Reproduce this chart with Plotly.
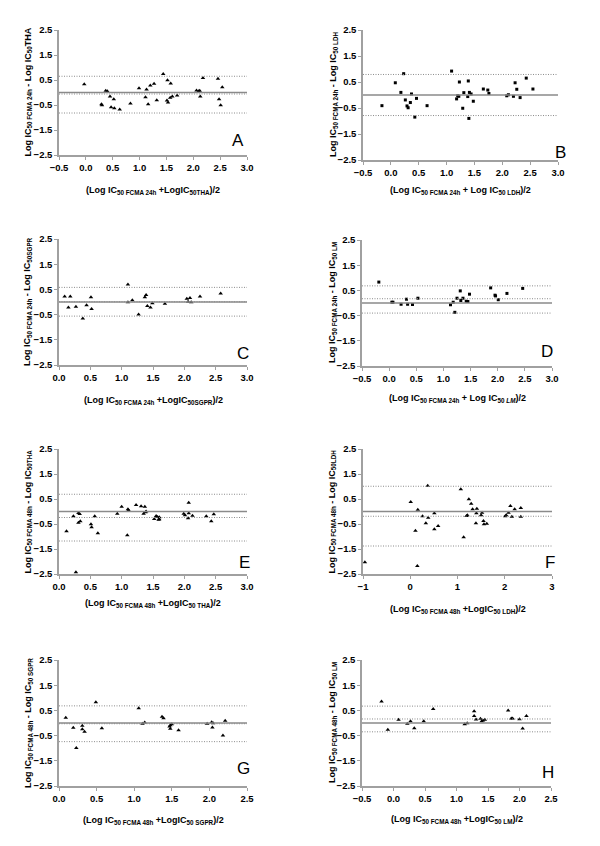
import plotly.graph_objects as go

# ---------------- data ----------------
# Panel A : FCMA 24h vs THA
A_x = [-0.03, 0.29, 0.30, 0.37, 0.40, 0.45, 0.47, 0.52, 0.53, 0.63, 0.83, 0.99, 1.11, 1.13, 1.16, 1.20, 1.27, 1.32,
       1.44, 1.52, 1.51, 1.53, 1.57, 1.58, 1.61, 1.70, 2.06, 2.10, 2.12, 2.13, 2.18, 2.46, 2.48, 2.51, 2.54]
A_y = [0.33, -0.47, -0.51, 0.07, 0.05, -0.16, -0.59, -0.27, -0.63, -0.68, -0.44, 0.17, -0.19, 0.12, -0.47, 0.28, 0.35, -0.31,
       0.74, 0.49, -0.32, -0.40, -0.21, 0.36, -0.16, -0.12, 0.08, 0.05, 0.07, -0.16, 0.58, 0.55, -0.27, -0.51, 0.21]
A_limits = [0.65, -0.06, -0.82]

# Panel B : FCMA 24h vs LDH
B_x = [-0.16, 0.08, 0.18, 0.23, 0.26, 0.29, 0.31, 0.35, 0.37, 0.43, 0.46, 0.65, 1.09, 1.18, 1.20, 1.22, 1.23, 1.29,
       1.31, 1.38, 1.39, 1.40, 1.41, 1.44, 1.48, 1.66, 1.74, 1.76, 2.08, 2.11, 2.20, 2.23, 2.26, 2.32, 2.43, 2.55]
B_y = [-0.41, 0.47, 0.10, 0.82, -0.19, -0.42, -0.49, -0.29, 0.04, -0.85, -0.13, -0.41, 0.92, -0.15, -0.03, -0.05, 0.50, -0.51,
       0.09, -0.06, 0.54, -0.90, 0.10, 0.04, -0.24, 0.23, 0.19, 0.06, -0.03, 0.01, -0.05, 0.47, 0.22, -0.10, 0.65, 0.23]
B_limits = [0.79, -0.79]

# Panel C : FCMA 24h vs SGPR
C_x = [0.09, 0.15, 0.18, 0.27, 0.38, 0.44, 0.51, 0.52, 1.10, 1.10, 1.17, 1.27, 1.37, 1.39, 1.41, 1.46, 1.49, 1.69,
       2.04, 2.06, 2.09, 2.11, 2.25, 2.58]
C_y = [0.22, -0.22, 0.22, -0.19, -0.65, -0.13, 0.19, -0.28, 0.69, -0.01, 0.07, -0.50, 0.19, 0.28, -0.16, -0.22, -0.05, -0.07,
       0.13, 0.01, 0.16, -0.01, 0.22, 0.34]
C_limits = [0.58, 0.01, -0.56]

# Panel D : FCMA 24h vs LM
D_x = [-0.19, 0.05, 0.07, 0.22, 0.32, 0.34, 0.43, 0.53, 1.13, 1.18, 1.21, 1.25, 1.31, 1.32, 1.36, 1.42, 1.45, 1.48,
       1.87, 1.95, 1.96, 2.01, 2.17, 2.46]
D_y = [0.83, 0.03, 0.03, -0.05, 0.15, -0.05, -0.06, 0.19, -0.07, 0.03, -0.37, 0.19, 0.48, 0.10, 0.19, 0.07, 0.06, 0.35,
       0.60, 0.31, 0.28, 0.13, 0.38, 0.58]
D_limits = [0.68, 0.17, -0.40]

# Panel E : FCMA 48h vs THA
E_x = [0.12, 0.23, 0.27, 0.31, 0.33, 0.31, 0.34, 0.51, 0.52, 0.57, 0.62, 0.93, 1.00, 1.09, 1.10, 1.11, 1.23, 1.31, 1.35,
       1.37, 1.38, 1.39, 1.52, 1.55, 1.57, 1.59, 1.60, 1.60, 1.99, 2.01, 2.07, 2.07, 2.06, 2.13, 2.35, 2.43, 2.47]
E_y = [-0.79, -0.19, -2.43, -0.06, -0.10, -0.45, -0.39, -0.51, -0.63, -0.19, -0.87, -0.09, 0.19, -0.95, 0.09, 0.05, 0.26,
       0.21, -0.09, 0.19, -0.03, 0.00, -0.30, -0.18, -0.22, -0.33, -0.23, -0.31, -0.09, -0.15, 0.35, -0.07, -0.27, -0.17,
       -0.19, -0.39, -0.11]
E_limits = [0.69, -0.24, -1.18]

# Panel F : FCMA 48h vs LDH
F_x = [-0.96, 0.01, 0.11, 0.15, 0.16, 0.26, 0.33, 0.37, 0.38, 0.51, 0.51, 0.59, 1.07, 1.13, 1.19, 1.21, 1.24, 1.29,
       1.32, 1.40, 1.41, 1.39, 1.50, 1.52, 1.55, 1.56, 1.62, 2.01, 2.03, 2.08, 2.12, 2.15, 2.21, 2.34, 2.34]
F_y = [-2.03, 0.38, -0.77, -2.18, 0.07, -0.19, -0.47, 1.03, -0.25, -0.07, -0.71, -0.58, 0.89, -1.03, -0.18, -0.15, 0.49,
       0.31, 0.09, -0.07, 0.11, -0.47, -0.15, -0.05, -0.38, -0.51, -0.49, -0.19, -0.15, -0.05, 0.22, -0.21, 0.09, 0.14, -0.21]
F_limits = [1.01, -0.19, -1.38]

# Panel G : FCMA 48h vs SGPR
G_x = [0.09, 0.19, 0.23, 0.31, 0.31, 0.34, 0.49, 0.57, 1.06, 1.11, 1.14, 1.37, 1.39, 1.47, 1.48, 1.48, 1.50, 1.59,
       1.97, 2.03, 2.04, 2.05, 2.18, 2.21]
G_y = [0.21, -0.19, -0.99, -0.11, -0.25, -0.35, 0.82, -0.21, 0.59, -0.03, 0.02, 0.25, 0.19, -0.14, -0.23, -0.09, -0.05,
       -0.29, -0.03, 0.03, -0.18, -0.01, -0.50, 0.09]
G_limits = [0.68, -0.03, -0.74]

# Panel H : FCMA 48h vs LM
H_x = [-0.19, -0.09, 0.08, 0.22, 0.27, 0.33, 0.48, 0.63, 1.13, 1.17, 1.28, 1.28, 1.31, 1.38, 1.40, 1.42, 1.45,
       1.82, 1.87, 1.89, 2.00, 2.05, 2.11]
H_y = [0.85, -0.27, 0.13, -0.03, 0.07, -0.21, 0.07, 0.56, -0.05, -0.01, 0.47, 0.28, 0.14, 0.17, 0.07, 0.10, 0.13,
       0.50, 0.18, 0.18, 0.15, -0.22, 0.28]
H_limits = [0.67, 0.16, -0.35]

Y_TICKS = [-2.5, -1.5, -0.5, 0.5, 1.5, 2.5]
X_TICKS_A = [-0.5, 0.0, 0.5, 1.0, 1.5, 2.0, 2.5, 3.0]
X_TICKS_C = [0.0, 0.5, 1.0, 1.5, 2.0, 2.5, 3.0]
X_TICKS_F = [-1, 0, 1, 2, 3]
X_TICKS_G = [0.0, 0.5, 1.0, 1.5, 2.0, 2.5]
X_TICKS_H = [-0.5, 0.0, 0.5, 1.0, 1.5, 2.0, 2.5]

# ---------------- layout ----------------
W, H = 600, 846

panels = [
    dict(L="A", x=A_x, y=A_y, lim=A_limits, sym="triangle-up", box=(59, 247, 30, 155), xt=X_TICKS_A, fmt=".1f",
         ytitle="Log IC<sub>50 FCMA 24h</sub> - Log IC<sub>50</sub>THA",
         xtitle="(Log IC<sub>50 FCMA 24h</sub> +LogIC<sub>50THA</sub>)/2",
         ytx=28, xty=190, let=(238, 140)),
    dict(L="B", x=B_x, y=B_y, lim=B_limits, sym="square", box=(363, 558, 30, 160), xt=X_TICKS_A, fmt=".1f",
         ytitle="Log IC<sub>50 FCMA 24h</sub> - Log IC<sub>50 LDH</sub>",
         xtitle="(Log IC<sub>50 FCMA 24h</sub> + Log IC<sub>50 LDH</sub>)/2",
         ytx=333, xty=190, let=(560, 152)),
    dict(L="C", x=C_x, y=C_y, lim=C_limits, sym="triangle-up", box=(59, 247, 239, 365), xt=X_TICKS_C, fmt=".1f",
         ytitle="Log IC<sub>50 FCMA 24h</sub> - Log IC<sub>50SGPR</sub>",
         xtitle="(Log IC<sub>50 FCMA 24h</sub> +LogIC<sub>50SGPR</sub>)/2",
         ytx=28, xty=400, let=(243, 353)),
    dict(L="D", x=D_x, y=D_y, lim=D_limits, sym="square", box=(362, 552, 240, 366), xt=X_TICKS_A, fmt=".1f",
         ytitle="Log IC<sub>50 FCMA 24h</sub> - Log IC<sub>50 LM</sub>",
         xtitle="(Log IC<sub>50 FCMA 24h</sub> + Log IC<sub>50 <i>LM</i></sub>)/2",
         ytx=332, xty=399, let=(547, 352)),
    dict(L="E", x=E_x, y=E_y, lim=E_limits, sym="triangle-up", box=(59, 247, 449, 574), xt=X_TICKS_C, fmt=".1f",
         ytitle="Log IC<sub>50 FCMA 48h</sub> - Log IC<sub>50THA</sub>",
         xtitle="(Log IC<sub>50 FCMA 48h</sub> +LogIC<sub>50 THA</sub>)/2",
         ytx=28, xty=603, let=(244, 562)),
    dict(L="F", x=F_x, y=F_y, lim=F_limits, sym="triangle-up", box=(363, 552, 449, 574), xt=X_TICKS_F, fmt="d",
         ytitle="Log IC<sub>50 FCMA 48h</sub> - Log IC<sub>50LDH</sub>",
         xtitle="(Log IC<sub>50 FCMA 48h</sub> +LogIC<sub>50 LDH</sub>)/2",
         ytx=332, xty=609, let=(550, 562)),
    dict(L="G", x=G_x, y=G_y, lim=G_limits, sym="triangle-up", box=(59, 247, 660, 786), xt=X_TICKS_G, fmt=".1f",
         ytitle="Log IC<sub>50 FCMA 48h</sub> - Log IC<sub>50 SGPR</sub>",
         xtitle="(Log IC<sub>50 FCMA 48h</sub> +LogIC<sub>50 SGPR</sub>)/2",
         ytx=28, xty=820, let=(243, 768)),
    dict(L="H", x=H_x, y=H_y, lim=H_limits, sym="triangle-up", box=(362, 551, 660, 786), xt=X_TICKS_H, fmt=".1f",
         ytitle="Log IC<sub>50 FCMA 48h</sub> - Log IC<sub>50 LM</sub>",
         xtitle="(Log IC<sub>50 FCMA 48h</sub> +LogIC<sub>50 LM</sub>)/2",
         ytx=332, xty=819, let=(548, 772)),
]

FONT = "Liberation Sans, Arial, sans-serif"
AXCOL = "#a0a0a0"

fig = go.Figure()
layout = dict(
    template="none",
    width=W, height=H, margin=dict(l=0, r=0, t=0, b=0, pad=0), autosize=False,
    paper_bgcolor="white", plot_bgcolor="white", showlegend=False,
    font=dict(family=FONT, color="black"),
)
shapes = []
annotations = []

for i, p in enumerate(panels, start=1):
    xs = "" if i == 1 else str(i)
    x0, x1, y0, y1 = p["box"]
    xt = p["xt"]
    fig.add_trace(go.Scatter(
        x=p["x"], y=p["y"], mode="markers", xaxis="x" + xs, yaxis="y" + xs,
        marker=dict(symbol=p["sym"], size=4 if p["sym"] == "triangle-up" else 3, color="black",
                    line=dict(width=0)),
        cliponaxis=False, hoverinfo="x+y"))
    common = dict(showgrid=False, zeroline=False, showline=True, linecolor=AXCOL, linewidth=1.5,
                  ticks="outside", ticklen=3, tickwidth=1, tickcolor=AXCOL, automargin=False,
                  tickfont=dict(family=FONT, size=9.5, color="black", weight="bold"))
    layout["xaxis" + xs] = dict(domain=[x0 / W, x1 / W], anchor="y" + xs, range=[xt[0], xt[-1]],
                                tickvals=xt, tickformat=p["fmt"], **common)
    layout["yaxis" + xs] = dict(domain=[1 - y1 / H, 1 - y0 / H], anchor="x" + xs, range=[-2.5, 2.5],
                                tickvals=Y_TICKS, tickformat=".1f", **common)
    # zero line (solid)
    shapes.append(dict(type="line", xref="x" + xs + " domain", yref="y" + xs, x0=0, x1=1, y0=0, y1=0,
                       line=dict(color="#8a8a8a", width=1.5)))
    # bias and limits of agreement (dotted)
    for v in p["lim"]:
        shapes.append(dict(type="line", xref="x" + xs + " domain", yref="y" + xs, x0=0, x1=1, y0=v, y1=v,
                           line=dict(color="#8c8c8c", width=1, dash="1px,1.5px")))
    annotations.append(dict(text="<b>" + p["xtitle"] + "</b>", xref="paper", yref="paper",
                            x=(x0 + x1) / 2 / W, y=1 - p["xty"] / H, xanchor="center", yanchor="middle",
                            showarrow=False, font=dict(family=FONT, size=9, color="black")))
    annotations.append(dict(text="<b>" + p["ytitle"] + "</b>", xref="paper", yref="paper", textangle=-90,
                            x=p["ytx"] / W, y=1 - (y0 + y1) / 2 / H, xanchor="center", yanchor="middle",
                            showarrow=False, font=dict(family=FONT, size=9, color="black")))
    annotations.append(dict(text=p["L"], xref="paper", yref="paper",
                            x=p["let"][0] / W, y=1 - p["let"][1] / H, xanchor="center", yanchor="middle",
                            showarrow=False, font=dict(family=FONT, size=17, color="black")))

layout["shapes"] = shapes
layout["annotations"] = annotations
fig.update_layout(**layout)
fig.write_html("out.html", config={"displayModeBar": False},
               post_script="document.body.style.margin='0';")
